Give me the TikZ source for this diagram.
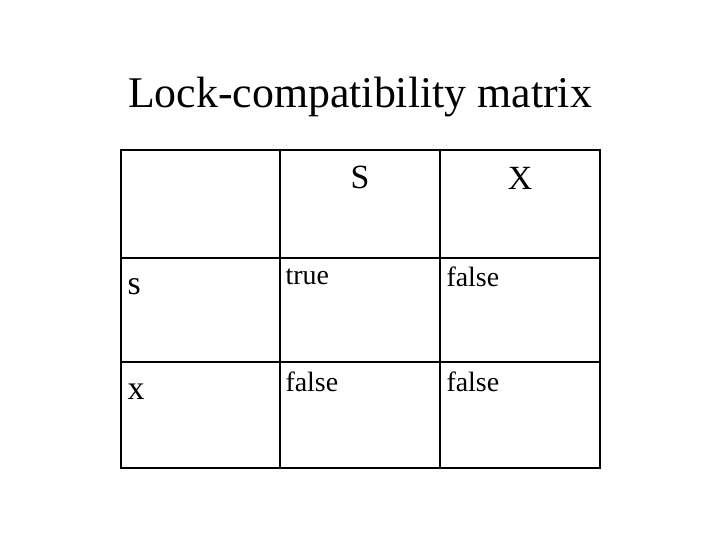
\documentclass[tikz,border=0pt]{standalone}
\usepackage{fontspec}
\setmainfont{Liberation Serif}
\begin{document}
\begin{tikzpicture}[x=1bp,y=-1bp,
  grid/.style={line width=2.8bp,black},
  big/.style={font=\fontsize{34}{38}\selectfont},
  cell/.style={font=\fontsize{28}{31}\selectfont,anchor=west}]
\useasboundingbox (0,0) rectangle (720,540);
\node (title) at (360,97) {\fontsize{44}{50}\selectfont Lock-compatibility matrix};
\draw[grid] (121,150) rectangle (600,468);
\foreach \x in {280,440} \draw[grid] (\x,150) -- (\x,468);
\foreach \y in {258,362} \draw[grid] (121,\y) -- (600,\y);
\node[big] (S) at (360,177) {S};
\node[big] (X) at (520,178) {X};
\node[big,anchor=west] (s) at (124,287) {s};
\node[big,anchor=west] (x) at (124,392) {x};
\node[cell] (t1) at (282,277) {true};
\node[cell] (f1) at (443,277) {false};
\node[cell] (f2) at (282,382) {false};
\node[cell] (f3) at (443,382) {false};
\end{tikzpicture}
\end{document}
